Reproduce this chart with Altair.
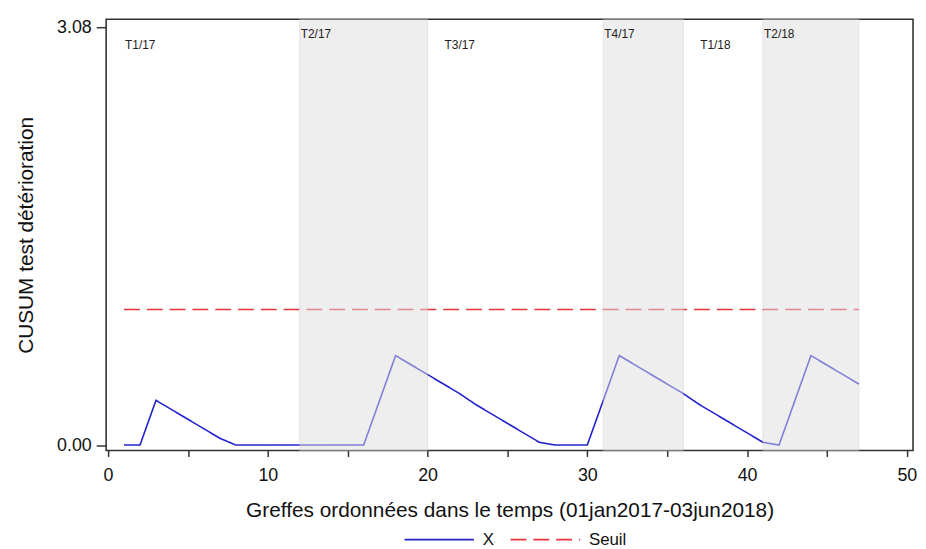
import altair as alt
import pandas as pd

# ---- data ----
greffe = list(range(1, 48))
cusum = [0, 0, 0.33, 0.26, 0.19, 0.12, 0.05, 0, 0, 0,
         0, 0, 0, 0, 0, 0, 0.33, 0.66, 0.59, 0.52,
         0.45, 0.38, 0.30, 0.23, 0.16, 0.09, 0.02, 0, 0, 0,
         0.33, 0.66, 0.59, 0.52, 0.45, 0.38, 0.30, 0.23, 0.16, 0.09,
         0.02, 0, 0.33, 0.66, 0.59, 0.52, 0.45]
seuil_x = [1, 47]
seuil_y = [1.0, 1.0]

band_start = [12, 31, 41]
band_end = [20, 36, 47]

period_labels = ["T1/17", "T2/17", "T3/17", "T4/17", "T1/18", "T2/18"]
period_x = [1, 12, 21, 31, 37, 41]
period_y = [2.92, 3.0, 2.92, 3.0, 2.92, 3.0]

x_ticks = [0, 5, 10, 15, 20, 25, 30, 35, 40, 45, 50]
y_ticks = [0, 3.08]

FONT = "Liberation Sans"
BLUE = "#2222cc"
RED = "#e8333a"

lines = pd.DataFrame(
    {"x": greffe + seuil_x,
     "y": cusum + seuil_y,
     "serie": ["X"] * len(greffe) + ["Seuil"] * len(seuil_x)}
)
bands = pd.DataFrame({"x": band_start, "x2": band_end})
labels = pd.DataFrame({"x": period_x, "y": period_y, "t": period_labels})

xscale = alt.Scale(domain=[-0.12, 50.39], nice=False, zero=False)
yscale = alt.Scale(domain=[-0.04, 3.14], nice=False, zero=False)

legend_cfg = dict(title=None, orient="none", legendX=300, legendY=489,
                  direction="horizontal", symbolType="stroke", symbolSize=4900,
                  symbolStrokeWidth=1.8, labelFontSize=17, labelFont=FONT,
                  labelColor="#111", labelOffset=8, columnPadding=12,
                  labelLimit=200, padding=0)

line_layer = alt.Chart(lines).mark_line(strokeWidth=1.6).encode(
    x=alt.X("x:Q", scale=xscale,
            axis=alt.Axis(values=x_ticks, title="Greffes ordonnées dans le temps (01jan2017-03jun2018)",
                          labelExpr="datum.value % 10 == 0 ? datum.label : ''",
                          grid=False, domain=False, tickSize=6, tickColor="#333",
                          tickWidth=1.5, labelPadding=10, titlePadding=16)),
    y=alt.Y("y:Q", scale=yscale,
            axis=alt.Axis(values=y_ticks, format=".2f", title="CUSUM test détérioration",
                          grid=False, domain=False, tickSize=10, tickColor="#333",
                          tickWidth=1.5, labelPadding=5, titlePadding=20)),
    color=alt.Color("serie:N",
                    scale=alt.Scale(domain=["X", "Seuil"], range=[BLUE, RED]),
                    legend=alt.Legend(**legend_cfg)),
    strokeDash=alt.StrokeDash("serie:N",
                              scale=alt.Scale(domain=["X", "Seuil"], range=[[1, 0], [16, 7]]),
                              legend=alt.Legend(**legend_cfg)),
    detail="serie:N",
)

band_layer = alt.Chart(bands).mark_rect(color="#dedede", opacity=0.5,
                                        stroke="#c8c8c8", strokeWidth=1).encode(
    x=alt.X("x:Q", scale=xscale),
    x2="x2:Q",
    y=alt.value(0),
    y2=alt.value(435),
)

label_layer = alt.Chart(labels).mark_text(align="left", baseline="alphabetic",
                                          font=FONT, fontSize=12, color="#222",
                                          dx=1).encode(
    x=alt.X("x:Q", scale=xscale),
    y=alt.Y("y:Q", scale=yscale),
    text="t:N",
)

chart = alt.layer(line_layer, band_layer, label_layer).properties(
    width=814, height=435,
    autosize=alt.AutoSizeParams(type="none"),
    padding={"left": 99, "top": 9, "right": 5, "bottom": 97},
).configure_view(
    stroke="#333", strokeWidth=1.6
).configure_axis(
    labelFont=FONT, titleFont=FONT, labelFontSize=18, titleFontSize=21,
    labelColor="#111", titleColor="#111", titleFontWeight="normal",
)

chart.save("out.html", embed_options={"renderer": "svg", "actions": False})
